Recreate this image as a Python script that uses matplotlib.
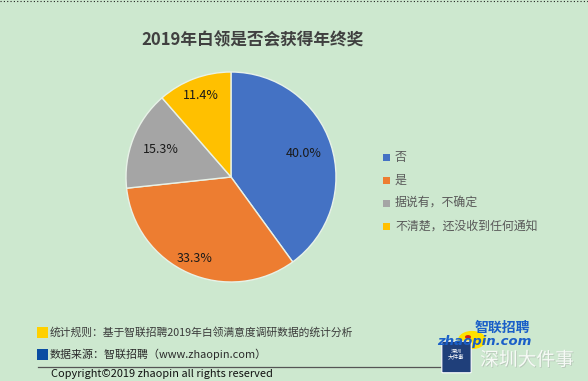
import matplotlib
matplotlib.use("Agg")
import matplotlib.pyplot as plt
import numpy as np
from matplotlib.patches import Rectangle, Circle, FancyBboxPatch
from matplotlib.lines import Line2D
import matplotlib.patheffects as pe

plt.rcParams['font.family'] = ['Noto Sans CJK SC', 'DejaVu Sans']

# data
categories = ['否', '是', '据说有，不确定', '不清楚，还没收到任何通知']
shares = [40.0, 33.3, 15.3, 11.4]
colors = ['#4472C4', '#ED7D31', '#A5A5A5', '#FFC000']
label_dist = [0.73, 0.85, 0.72, 0.83]

title = '2019年白领是否会获得年终奖'
note_rule = '统计规则：基于智联招聘2019年白领满意度调研数据的统计分析'
note_source = '数据来源：智联招聘（www.zhaopin.com）'
copyright_text = 'Copyright©2019 zhaopin all rights reserved'

W, H = 588, 381
bg = '#cde8cf'
fig = plt.figure(figsize=(W / 100, H / 100), dpi=100)
fig.patch.set_facecolor(bg)


def fx(x):
    return x / W


def fy(y):
    return 1 - y / H


# pie
cx, cy, r = 231, 177, 105
ax = fig.add_axes([fx(cx - r), fy(cy + r), 2 * r / W, 2 * r / H])
ax.set_facecolor(bg)
wedges, texts, autotexts = ax.pie(
    shares, colors=colors, startangle=90, counterclock=False,
    autopct='%.1f%%', pctdistance=0.75,
    wedgeprops=dict(edgecolor='#e8f2e8', linewidth=1.0),
    textprops=dict(fontsize=9, color='#1a1a1a'))
for w, t, d in zip(wedges, autotexts, label_dist):
    ang = np.deg2rad((w.theta1 + w.theta2) / 2)
    t.set_position((d * np.cos(ang), d * np.sin(ang)))
ax.set_xlim(-1, 1)
ax.set_ylim(-1, 1)
ax.set_aspect('equal')
ax.axis('off')

# title
fig.text(fx(252), fy(40), title, ha='center', va='center', fontsize=12,
         fontweight='bold', color='#404040')

# legend
leg_y = [157, 180, 203, 226]
for cat, col, y in zip(categories, colors, leg_y):
    fig.patches.append(Rectangle((fx(383), fy(y + 4)), 7 / W, 7 / H,
                                 transform=fig.transFigure, facecolor=col,
                                 edgecolor='none'))
    fig.text(fx(395), fy(y), cat, ha='left', va='center', fontsize=8.6,
             color='#595959')

# footer notes
fig.patches.append(Rectangle((fx(37), fy(338)), 11 / W, 11 / H,
                             transform=fig.transFigure, facecolor='#FFD000',
                             edgecolor='none'))
fig.patches.append(Rectangle((fx(37), fy(360)), 11 / W, 11 / H,
                             transform=fig.transFigure, facecolor='#0A4DA2',
                             edgecolor='none'))
fig.text(fx(50), fy(332), note_rule, ha='left', va='center', fontsize=7.75,
         color='#3a3a3a')
fig.text(fx(50), fy(354), note_source, ha='left', va='center', fontsize=7.9,
         color='#2a2a2a')
fig.add_artist(Line2D([fx(38), fx(440)], [fy(367), fy(367)],
                      transform=fig.transFigure, color='#555555', lw=0.9))
fig.text(fx(51), fy(374), copyright_text, ha='left', va='center',
         fontsize=7.9, color='#111111')

# logo
fig.patches.append(Circle((fx(472), fy(340)), 14 / W,
                          transform=fig.transFigure, facecolor='#FFE000',
                          edgecolor='none'))
fig.patches.append(Circle((fx(468), fy(337)), 3 / W,
                          transform=fig.transFigure, facecolor='#d02020',
                          edgecolor='none'))
fig.text(fx(502), fy(328), '智联招聘', ha='center', va='center', fontsize=10,
         fontweight='bold', color='#1a5fc8', style='italic')
fig.text(fx(484), fy(341), 'zhaopin.com', ha='center', va='center',
         fontsize=9.5, fontweight='bold', color='#1a5fc8', style='italic',
         family='DejaVu Sans')
fig.patches.append(FancyBboxPatch((fx(443), fy(372)), 27 / W, 30 / H,
                                  boxstyle='round,pad=0.002',
                                  transform=fig.transFigure,
                                  facecolor='#1f3f7a', edgecolor='white',
                                  lw=0.8))
fig.text(fx(456.5), fy(354), '深圳\n大件事', ha='center', va='center',
         fontsize=4, color='white', linespacing=1.0)
fig.text(fx(527), fy(360), '深圳大件事', ha='center', va='center',
         fontsize=13.5, color='#f6faf6', fontweight='light',
         path_effects=[pe.withSimplePatchShadow(offset=(0.6, -0.6),
                                                shadow_rgbFace='#999999',
                                                alpha=0.4)])

# dotted top border
fig.add_artist(Line2D([0, 1], [fy(1), fy(1)], transform=fig.transFigure,
                      color='#222222', lw=0.8, linestyle=(0, (1, 2))))

fig.savefig('out.png', dpi=100, facecolor=bg)
